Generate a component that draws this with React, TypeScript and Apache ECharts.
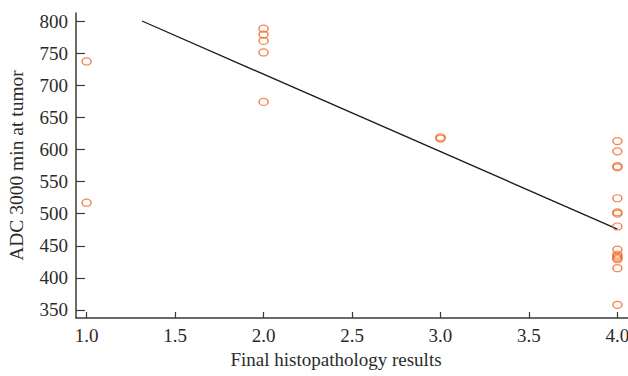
import React, { useEffect, useRef } from "react";
import * as echarts from "echarts";

const xGroups: number[] = [1, 1, 2, 2, 2, 2, 2, 3, 3, 4, 4, 4, 4, 4, 4, 4, 4, 4, 4, 4, 4, 4, 4, 4];
const adcValues: number[] = [737, 517, 788, 779, 769, 751, 674, 617, 619, 613, 597, 572, 574, 524, 500, 502, 480, 444, 433, 429, 415, 358, 436, 431];
const fitX: number[] = [1.313, 4.0];
const fitY: number[] = [800, 476];
const yTicks: number[] = [350, 400, 450, 500, 550, 600, 650, 700, 750, 800];
const xTicks: number[] = [1.0, 1.5, 2.0, 2.5, 3.0, 3.5, 4.0];

const FONT = "Liberation Serif";
const TEXT = "#2b2b2b";
const AXIS = "#3a3a3a";
const ORANGE = "#f26a2a";

export default function App() {
  const ref = useRef<HTMLDivElement>(null);
  useEffect(() => {
    if (!ref.current) return;
    const chart = echarts.init(ref.current, undefined, { renderer: "svg" });
    const points = xGroups.map((x, i) => [x, adcValues[i]]);
    const line = fitX.map((x, i) => [x, fitY[i]]);
    chart.setOption({
      animation: false,
      backgroundColor: "#ffffff",
      grid: { left: 76, top: 13, right: 0, bottom: 58, containLabel: false, outerBoundsMode: "none" },
      xAxis: {
        type: "value",
        min: 0.94,
        max: 4.06,
        name: "Final histopathology results",
        nameLocation: "middle",
        nameGap: 30,
        nameTextStyle: { fontFamily: FONT, fontSize: 19, color: TEXT, padding: [0, 32, 0, 0] },
        axisLine: { show: true, lineStyle: { color: AXIS, width: 1.5 } },
        axisTick: { show: true, inside: true, length: 6, lineStyle: { color: AXIS, width: 1.2 }, customValues: xTicks },
        axisLabel: {
          fontFamily: FONT, fontSize: 19, color: TEXT, margin: 8,
          customValues: xTicks,
          hideOverlap: false,
          formatter: (v: number) => v.toFixed(1),
        },
        splitLine: { show: false },
      },
      yAxis: {
        type: "value",
        min: 337.5,
        max: 812.5,
        name: "ADC 3000 min at tumor",
        nameLocation: "middle",
        nameGap: 50,
        nameTextStyle: { fontFamily: FONT, fontSize: 19.5, color: TEXT },
        axisLine: { show: true, lineStyle: { color: AXIS, width: 1.5 } },
        axisTick: { show: true, inside: true, length: 9, lineStyle: { color: AXIS, width: 1.2 }, customValues: yTicks },
        axisLabel: {
          fontFamily: FONT, fontSize: 19, color: TEXT, margin: 8,
          customValues: yTicks,
        },
        splitLine: { show: false },
      },
      series: [
        {
          type: "line",
          data: line,
          symbol: "none",
          lineStyle: { color: "#1a1a1a", width: 1.3 },
          z: 2,
        },
        {
          type: "scatter",
          data: points,
          symbol: "path://M0,5a5,5 0 1,0 10,0a5,5 0 1,0 -10,0z",
          symbolSize: [9, 7],
          symbolKeepAspect: false,
          itemStyle: { color: "transparent", borderColor: ORANGE, borderWidth: 1.4 },
          z: 3,
        },
      ],
    });
    return () => chart.dispose();
  }, []);
  return (
    <div
      ref={ref}
      style={{ position: "fixed", left: 0, top: 0, width: 628, height: 376, background: "#fff" }}
    />
  );
}
